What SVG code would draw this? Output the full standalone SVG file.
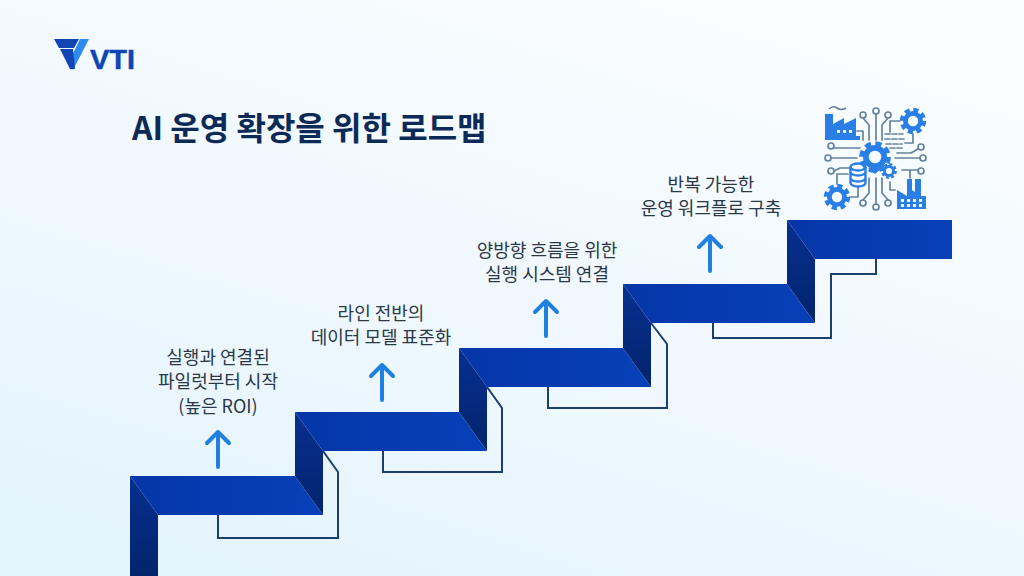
<svg xmlns="http://www.w3.org/2000/svg" width="1024" height="576" viewBox="0 0 1024 576">
<defs>
<linearGradient id="bg" x1="0.75" y1="0" x2="0.2" y2="1"><stop offset="0" stop-color="#fafdff"/><stop offset="0.55" stop-color="#eff8fe"/><stop offset="1" stop-color="#e4f4fd"/></linearGradient>
<linearGradient id="tread" x1="0" y1="0" x2="1" y2="0"><stop offset="0" stop-color="#0636a8"/><stop offset="1" stop-color="#0640b8"/></linearGradient>
<linearGradient id="riser" x1="0" y1="0" x2="0" y2="1"><stop offset="0" stop-color="#062f90"/><stop offset="1" stop-color="#03246c"/></linearGradient>
<g id="gear"><circle r="10" fill="#2a7fe6"/><circle r="11" fill="none" stroke="#2a7fe6" stroke-width="4.4" stroke-dasharray="5 3.64"/><circle r="5.2" fill="#f6fbff"/></g>
</defs>
<style>
.t{font-family:"Noto Sans CJK KR","Noto Sans",sans-serif;font-size:18px;fill:#2a3848;text-anchor:middle}
.tr{fill:url(#tread)}
.ri{fill:url(#riser)}
.ol{fill:none;stroke:#1d3f6e;stroke-width:2}
.ar{fill:none;stroke:#1f80e0;stroke-width:4;stroke-linecap:round;stroke-linejoin:round}
.ic{fill:none;stroke:#64829f;stroke-width:1.7;stroke-linecap:round;stroke-linejoin:round}
.bl{fill:#2a7fe6}
.w{fill:#f6fbff}
</style>
<rect width="1024" height="576" fill="url(#bg)"/>
<g id="logo">
<path d="M54,39 H79 L74,48 H59 Z" fill="#0f46b4"/>
<path d="M80,39 H89 L73,70 L69,62 Z" fill="#2f8bf0"/>
<path d="M60,49 H73 L75,69 L70,69 Z" fill="#0f46b4"/>
<text x="90" y="69" font-family="'Liberation Sans',sans-serif" font-weight="700" font-size="28" fill="#0f46b4" stroke="#0f46b4" stroke-width="0.5" textLength="45" lengthAdjust="spacingAndGlyphs">VTI</text>
</g>
<text id="title" x="132" y="140" font-family="'Noto Sans CJK KR',sans-serif" font-weight="700" font-size="32" fill="#0c2a57">AI 운영 확장을 위한 로드맵</text>
<g id="connectors">
<path class="ol" d="M218,515 V538 H338 V472 L323,451"/>
<path class="ol" d="M383,451 V472 H502 V408 L487,387"/>
<path class="ol" d="M548,387 V408 H667 V344 L651,323"/>
<path class="ol" d="M713,323 V338 H831 V274 H876 V259"/>
<path class="ar" d="M218,467 V433 M207,443 L218,432 L229,443"/>
<path class="ar" d="M382,400 V366 M371,376 L382,365 L393,376"/>
<path class="ar" d="M546,336 V302 M535,312 L546,301 L557,312"/>
<path class="ar" d="M710,271 V237 M699,247 L710,236 L721,247"/>
</g>
<g id="stairs">
<path class="ri" d="M130,476 L158,515 V576 H130 Z"/>
<path class="tr" d="M130,476 H295 L323,515 H158 Z"/>
<path class="ri" d="M295,412 L323,451 V515 L295,476 Z"/>
<path class="tr" d="M295,412 H459 L487,451 H323 Z"/>
<path class="ri" d="M459,348 L487,387 V451 L459,412 Z"/>
<path class="tr" d="M459,348 H623 L651,387 H487 Z"/>
<path class="ri" d="M623,284 L651,323 V387 L623,348 Z"/>
<path class="tr" d="M623,284 H787 L815,323 H651 Z"/>
<path class="ri" d="M787,220 L815,259 V323 L787,284 Z"/>
<path class="tr" d="M787,220 H952 V259 H815 Z"/>
</g>
<g id="step1"><text class="t" x="218" y="364">실행과 연결된</text><text class="t" x="218" y="388">파일럿부터 시작</text><text class="t" x="218" y="413">(높은 ROI)</text></g>
<g id="step2"><text class="t" x="381" y="320">라인 전반의</text><text class="t" x="381" y="344">데이터 모델 표준화</text></g>
<g id="step3"><text class="t" x="547" y="257">양방향 흐름을 위한</text><text class="t" x="547" y="281">실행 시스템 연결</text></g>
<g id="step4"><text class="t" x="711" y="191">반복 가능한</text><text class="t" x="711" y="215">운영 워크플로 구축</text></g>
<g id="icon">
<path class="ic" d="M863,118 L869,125 V140 M876,114 V140 M888,118 L882,125 V140 M834,148 H860 M831,158 H857 M834,171 L840,168 H850 M920,158 H895 M918,149 L911,153 H897 M918,170 H910 V178 M863,200 L869,193 V178 M876,204 V178 M888,200 L882,193 V178 M857,131 H863 V140 M900,121 H890 V132 M913,134 V143 H905 M837,184 V174 H848 M850,197 H858 V187 M895,190 H890 V182 M910,170 H902"/>
<circle class="ic" cx="863" cy="115" r="3"/><circle class="ic" cx="876" cy="111" r="3"/><circle class="ic" cx="888" cy="115" r="3"/>
<circle class="ic" cx="831" cy="146" r="3"/><circle class="ic" cx="828" cy="158" r="3"/><circle class="ic" cx="831" cy="171" r="3"/>
<circle class="ic" cx="921" cy="147" r="3"/><circle class="ic" cx="923" cy="158" r="3"/><circle class="ic" cx="921" cy="171" r="3"/>
<circle class="ic" cx="863" cy="203" r="3"/><circle class="ic" cx="876" cy="207" r="3"/><circle class="ic" cx="888" cy="203" r="3"/>
<path class="ic" d="M885,134 H903 M885,139 H904 M886,144 H902 M890,148 H902" stroke-dasharray="5 2"/>
<path class="bl" d="M825,140 V114 H833 V124 L844,118 V124 L856,118 V136 H860 V140 Z"/>
<path d="M829,109 Q833,105 837,108 Q841,111 846,108" fill="none" stroke="#64829f" stroke-width="1.6"/>
<rect class="w" x="837" y="130" width="3" height="3"/><rect class="w" x="843" y="130" width="3" height="3"/><rect class="w" x="849" y="130" width="3" height="3"/>
<use href="#gear" transform="translate(913,121)"/>
<use href="#gear" transform="translate(875,157) scale(1.2)"/>
<path class="bl" d="M868,168 L875,174 L882,168 Z"/>
<use href="#gear" transform="translate(889,171) scale(0.6)"/>
<use href="#gear" transform="translate(837,197)"/>
<g fill="none" stroke="#2a7fe6" stroke-width="2.4"><ellipse cx="858" cy="167" rx="7.5" ry="3.5"/><path d="M850.500,167 V183 A7.500,3.500 0 0 0 865.500,183 V167 M850.500,172 A7.500,3.500 0 0 0 865.500,172 M850.500,178 A7.500,3.500 0 0 0 865.500,178"/></g>
<path class="bl" d="M897,209 V190 L907,196 V179 H912 V190 L915,192 V179 H921 V196 H926 V209 Z"/>
<rect class="w" x="901" y="199" width="3" height="3"/><rect class="w" x="907" y="199" width="3" height="3"/><rect class="w" x="913" y="199" width="3" height="3"/><rect class="w" x="919" y="199" width="3" height="3"/><rect class="w" x="901" y="204" width="3" height="3"/><rect class="w" x="907" y="204" width="3" height="3"/><rect class="w" x="913" y="204" width="3" height="3"/><rect class="w" x="919" y="204" width="3" height="3"/>
</g>
</svg>
